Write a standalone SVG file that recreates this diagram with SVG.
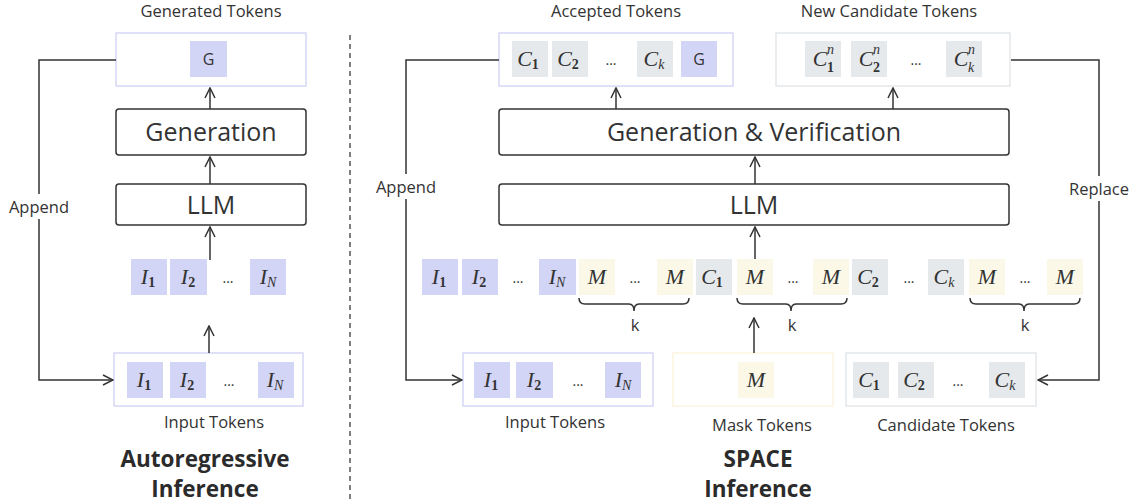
<svg xmlns="http://www.w3.org/2000/svg" width="1137" height="504" viewBox="0 0 1137 504">
<defs>
<style>
.lbl{font-family:"Open Sans","Noto Sans",sans-serif;font-size:16.5px;fill:#333;text-anchor:middle}
.big{font-family:"Open Sans","Noto Sans",sans-serif;font-size:25px;fill:#333;text-anchor:middle}
.ttl{font-family:"Open Sans","Noto Sans",sans-serif;font-size:22.5px;font-weight:bold;fill:#2b2b2b;text-anchor:middle}
.m{font-family:"Liberation Serif","DejaVu Serif",serif;font-style:italic;font-size:22px;fill:#333;text-anchor:middle}
.sub{font-family:"Liberation Serif","DejaVu Serif",serif;font-style:normal;font-weight:bold;font-size:14px;fill:#333}
.subi{font-family:"Liberation Serif","DejaVu Serif",serif;font-style:italic;font-size:14px;fill:#333}
.dots{font-family:"Open Sans","Noto Sans",sans-serif;font-size:14px;fill:#333;text-anchor:middle}
.g{font-family:"Open Sans","Noto Sans",sans-serif;font-size:16px;fill:#333;text-anchor:middle}
.tb{fill:#d3d5f6}
.tg{fill:#e6e9ec}
.tc{fill:#fbf8e8}
.bb{fill:#fff;stroke:#d6d8f7;stroke-width:1.5}
.bg{fill:#fff;stroke:#e4e7ea;stroke-width:1.5}
.bc{fill:#fff;stroke:#fbf5e0;stroke-width:1.5}
.blk{fill:#fff;stroke:#333;stroke-width:1.5}
.ln{fill:none;stroke:#333;stroke-width:1.5}
</style>
<marker id="ah" viewBox="0 0 12 12" refX="11" refY="6" markerWidth="12" markerHeight="12" markerUnits="userSpaceOnUse" orient="auto">
<path d="M1,1 L11,6 L1,11" fill="none" stroke="#333" stroke-width="1.5"/>
</marker>
</defs>
<rect width="1137" height="504" fill="#fff"/>

<!-- divider -->
<line x1="350" y1="35" x2="350" y2="502" stroke="#555" stroke-width="1.5" stroke-dasharray="5,4"/>

<!-- ===== LEFT PANEL ===== -->
<g id="ar-generated">
<text class="lbl" x="211" y="17">Generated Tokens</text>
<rect class="bb" x="116" y="33" width="190" height="53"/>
<rect class="tb" x="190" y="41" width="37" height="36"/>
<text class="g" x="208.5" y="65">G</text>
</g>
<g id="ar-generation">
<rect class="blk" x="116" y="109" width="190" height="46" rx="3"/>
<text class="big" x="211" y="141">Generation</text>
</g>
<g id="ar-llm">
<rect class="blk" x="116" y="184" width="190" height="41" rx="3"/>
<text class="big" x="211" y="214">LLM</text>
</g>
<g id="ar-row">
<rect class="tb" x="131" y="259" width="36" height="36"/><text class="m" x="148" y="284">I<tspan class="sub" dy="3">1</tspan></text>
<rect class="tb" x="170" y="259" width="37" height="36"/><text class="m" x="188" y="284">I<tspan class="sub" dy="3">2</tspan></text>
<text class="dots" x="228" y="283">...</text>
<rect class="tb" x="250" y="259" width="36" height="36"/><text class="m" x="268" y="284">I<tspan class="subi" dy="3">N</tspan></text>
</g>
<g id="ar-input">
<rect class="bb" x="114" y="353" width="189" height="53"/>
<rect class="tb" x="127" y="362" width="36" height="36"/><text class="m" x="144" y="387">I<tspan class="sub" dy="3">1</tspan></text>
<rect class="tb" x="170" y="362" width="36" height="36"/><text class="m" x="187" y="387">I<tspan class="sub" dy="3">2</tspan></text>
<text class="dots" x="229" y="386">...</text>
<rect class="tb" x="258" y="362" width="36" height="36"/><text class="m" x="275" y="387">I<tspan class="subi" dy="3">N</tspan></text>
<text class="lbl" x="214" y="428">Input Tokens</text>
</g>
<g id="ar-title">
<text class="ttl" x="205" y="467">Autoregressive</text>
<text class="ttl" x="205" y="497">Inference</text>
</g>

<!-- ===== RIGHT PANEL ===== -->
<g id="sp-accepted">
<text class="lbl" x="616" y="17">Accepted Tokens</text>
<rect class="bb" x="499" y="33" width="234" height="53"/>
<rect class="tg" x="512" y="41" width="36" height="36"/><text class="m" x="528" y="66">C<tspan class="sub" dy="3">1</tspan></text>
<rect class="tg" x="552" y="41" width="36" height="36"/><text class="m" x="568" y="66">C<tspan class="sub" dy="3">2</tspan></text>
<text class="dots" x="611" y="65">...</text>
<rect class="tg" x="637" y="41" width="36" height="36"/><text class="m" x="654" y="66">C<tspan class="subi" dy="3">k</tspan></text>
<rect class="tb" x="681" y="41" width="36" height="36"/><text class="g" x="699" y="65">G</text>
</g>
<g id="sp-newcand">
<text class="lbl" x="889" y="17">New Candidate Tokens</text>
<rect class="bg" x="776" y="33" width="234" height="53"/>
<rect class="tg" x="805" y="41" width="36" height="36"/><text class="m" x="820" y="66">C</text><text class="subi" x="827" y="54">n</text><text class="sub" x="827" y="72">1</text>
<rect class="tg" x="851" y="41" width="36" height="36"/><text class="m" x="866" y="66">C</text><text class="subi" x="873" y="54">n</text><text class="sub" x="873" y="72">2</text>
<text class="dots" x="916" y="65">...</text>
<rect class="tg" x="946" y="41" width="36" height="36"/><text class="m" x="961" y="66">C</text><text class="subi" x="968" y="54">n</text><text class="subi" x="968" y="72">k</text>
</g>
<g id="sp-genver">
<rect class="blk" x="499" y="109" width="510" height="46" rx="3"/>
<text class="big" x="754" y="141">Generation &amp; Verification</text>
</g>
<g id="sp-llm">
<rect class="blk" x="499" y="184" width="510" height="41" rx="3"/>
<text class="big" x="754" y="214">LLM</text>
</g>
<g id="sp-row">
<rect class="tb" x="422" y="259" width="36" height="36"/><text class="m" x="439" y="284">I<tspan class="sub" dy="3">1</tspan></text>
<rect class="tb" x="462" y="259" width="36" height="36"/><text class="m" x="479" y="284">I<tspan class="sub" dy="3">2</tspan></text>
<text class="dots" x="518" y="283">...</text>
<rect class="tb" x="539" y="259" width="37" height="36"/><text class="m" x="557" y="284">I<tspan class="subi" dy="3">N</tspan></text>
<rect class="tc" x="579" y="259" width="36" height="36"/><text class="m" x="597" y="284">M</text>
<text class="dots" x="635" y="283">...</text>
<rect class="tc" x="657" y="259" width="36" height="36"/><text class="m" x="675" y="284">M</text>
<rect class="tg" x="696" y="259" width="36" height="36"/><text class="m" x="712" y="284">C<tspan class="sub" dy="3">1</tspan></text>
<rect class="tc" x="737" y="259" width="36" height="36"/><text class="m" x="755" y="284">M</text>
<text class="dots" x="793" y="283">...</text>
<rect class="tc" x="813" y="259" width="36" height="36"/><text class="m" x="831" y="284">M</text>
<rect class="tg" x="852" y="259" width="36" height="36"/><text class="m" x="868" y="284">C<tspan class="sub" dy="3">2</tspan></text>
<text class="dots" x="909" y="283">...</text>
<rect class="tg" x="928" y="259" width="36" height="36"/><text class="m" x="944" y="284">C<tspan class="subi" dy="3">k</tspan></text>
<rect class="tc" x="969" y="259" width="36" height="36"/><text class="m" x="987" y="284">M</text>
<text class="dots" x="1025" y="283">...</text>
<rect class="tc" x="1047" y="259" width="36" height="36"/><text class="m" x="1065" y="284">M</text>
</g>
<g id="sp-braces">
<path class="ln" d="M579,298 Q579,304 585,304 L629,304 Q634,304 634,311 Q634,304 639,304 L683,304 Q689,304 689,298"/>
<text class="lbl" x="635" y="331">k</text>
<path class="ln" d="M737,298 Q737,304 743,304 L786,304 Q791,304 791,311 Q791,304 796,304 L841,304 Q847,304 847,298"/>
<text class="lbl" x="792" y="331">k</text>
<path class="ln" d="M970,298 Q970,304 976,304 L1019,304 Q1024,304 1024,311 Q1024,304 1029,304 L1074,304 Q1080,304 1080,298"/>
<text class="lbl" x="1025" y="331">k</text>
</g>
<g id="sp-input">
<rect class="bb" x="463" y="353" width="190" height="53"/>
<rect class="tb" x="474" y="362" width="36" height="36"/><text class="m" x="491" y="387">I<tspan class="sub" dy="3">1</tspan></text>
<rect class="tb" x="516" y="362" width="37" height="36"/><text class="m" x="534" y="387">I<tspan class="sub" dy="3">2</tspan></text>
<text class="dots" x="578" y="386">...</text>
<rect class="tb" x="605" y="362" width="36" height="36"/><text class="m" x="623" y="387">I<tspan class="subi" dy="3">N</tspan></text>
<text class="lbl" x="555" y="428">Input Tokens</text>
</g>
<g id="sp-mask">
<rect class="bc" x="673" y="353" width="160" height="53"/>
<rect class="tc" x="738" y="362" width="36" height="36"/><text class="m" x="756" y="387">M</text>
<text class="lbl" x="762" y="431">Mask Tokens</text>
</g>
<g id="sp-cand">
<rect class="bg" x="846" y="353" width="190" height="53"/>
<rect class="tg" x="853" y="362" width="36" height="36"/><text class="m" x="869" y="387">C<tspan class="sub" dy="3">1</tspan></text>
<rect class="tg" x="898" y="362" width="36" height="36"/><text class="m" x="914" y="387">C<tspan class="sub" dy="3">2</tspan></text>
<text class="dots" x="958" y="386">...</text>
<rect class="tg" x="989" y="362" width="36" height="36"/><text class="m" x="1005" y="387">C<tspan class="subi" dy="3">k</tspan></text>
<text class="lbl" x="946" y="431">Candidate Tokens</text>
</g>
<g id="sp-title">
<text class="ttl" x="758" y="467">SPACE</text>
<text class="ttl" x="758" y="497">Inference</text>
</g>

<!-- ===== CONNECTORS ===== -->
<g id="connectors">
<line class="ln" x1="210" y1="109" x2="210" y2="88" marker-end="url(#ah)"/>
<line class="ln" x1="210" y1="184" x2="210" y2="157" marker-end="url(#ah)"/>
<line class="ln" x1="210" y1="260" x2="210" y2="227" marker-end="url(#ah)"/>
<line class="ln" x1="209" y1="353" x2="209" y2="326" marker-end="url(#ah)"/>
<path class="ln" d="M116,60 L39,60 L39,194"/>
<path class="ln" d="M39,219 L39,380 L113,380" marker-end="url(#ah)"/>
<text class="lbl" x="39" y="213">Append</text>
<line class="ln" x1="616" y1="109" x2="616" y2="88" marker-end="url(#ah)"/>
<line class="ln" x1="893" y1="109" x2="893" y2="88" marker-end="url(#ah)"/>
<line class="ln" x1="755" y1="184" x2="755" y2="157" marker-end="url(#ah)"/>
<line class="ln" x1="755" y1="259" x2="755" y2="227" marker-end="url(#ah)"/>
<line class="ln" x1="754" y1="353" x2="754" y2="318" marker-end="url(#ah)"/>
<path class="ln" d="M499,60 L406,60 L406,174"/>
<path class="ln" d="M406,199 L406,380 L462,380" marker-end="url(#ah)"/>
<text class="lbl" x="406" y="193">Append</text>
<path class="ln" d="M1011,60 L1099,60 L1099,176"/>
<path class="ln" d="M1099,201 L1099,380 L1038,380" marker-end="url(#ah)"/>
<text class="lbl" x="1099" y="195">Replace</text>
</g>
</svg>
